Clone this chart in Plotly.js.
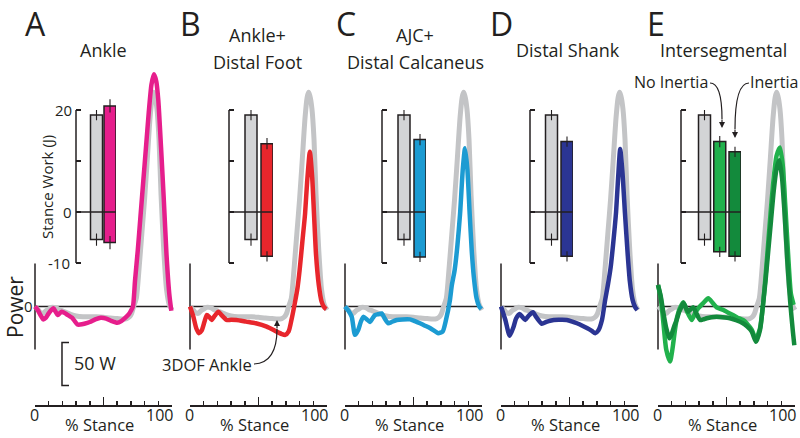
<!DOCTYPE html>
<html><head><meta charset="utf-8">
<script src="https://cdn.plot.ly/plotly-3.0.1.min.js"></script>
<style>html,body{margin:0;padding:0;background:#fff}#chart{width:800px;height:438px}</style>
</head><body><div id="chart"></div>
<script>
// ---------------- DATA ----------------
// Reference (rigid foot) power curve, % stance vs W
const stanceRef = [0, 2, 4, 6, 8, 10, 12, 14, 16, 18, 20, 23, 26, 30, 35, 40, 45, 50, 55, 60, 64, 67, 69, 70.5, 72, 74, 76, 78, 80, 82, 84, 85.5, 86.5, 87.5, 89, 90.5, 92, 94, 96, 98, 100];
const powerRef  = [0, -3, -7, -8, -5, -3, -1, -1, -2, -4, -5, -7, -9, -11, -12, -12, -12, -12.5, -13.5, -14, -14.5, -14, -12, -8, 0, 10, 45, 85, 125, 172, 220, 243, 249, 245, 230, 195, 130, 65, 20, 2, -4];

// A: Ankle
const stanceAnkle = [0, 2, 4, 6, 8, 10, 12, 13.5, 15, 16.5, 18, 19.5, 21, 23, 25, 27, 29, 31, 33, 36, 40, 44, 48, 52, 56, 60, 63, 66, 68.5, 70, 71.5, 73, 75, 77, 79, 81, 83, 85, 86.8, 88.5, 90, 92, 94, 96, 98, 99.5];
const powerAnkle  = [0, -4, -10, -15, -13, -8, -4, -2, -6, -10, -8, -6, -7, -9, -11, -13, -17, -21, -21, -20, -18, -15, -13, -14, -17, -19, -17, -13, -9, -5, 0, 30, 65, 105, 145, 185, 225, 258, 270, 262, 240, 185, 125, 60, 15, -5];

// B: Ankle + Distal Foot
const stanceFoot = [0, 2.5, 4.5, 6.5, 8.5, 10.5, 12.2, 14, 15.8, 18, 20.7, 23, 26.8, 30, 34, 41, 48, 56, 63, 67, 69.5, 72, 74, 76.5, 78.5, 80, 82, 84, 85.5, 87.5, 89.2, 90.5, 92, 94, 96, 98, 99.5];
const powerFoot  = [0, -12, -25, -31, -28, -18, -10, -12, -15.7, -11, -6, -10, -15.7, -15.5, -15.7, -17.6, -19.5, -23.4, -29, -32, -33, -29, -16, 4, 22, 42, 75, 108, 145, 180, 150, 108, 60, 25, 6, -1, -3];

// C: AJC + Distal Calcaneus
const stanceCalc = [0, 2.5, 4.9, 7.3, 9.7, 11.5, 13.4, 16, 18.2, 20, 21.9, 24, 26.8, 29, 31.6, 34, 37.7, 42, 47.5, 51, 54.7, 58, 62, 65, 68, 71.3, 73.7, 76.6, 78, 80, 82, 84, 86, 87.6, 89.3, 91, 92.5, 94, 96, 98, 99.5];
const powerCalc  = [0, -5, -12, -33, -27, -18, -12, -15, -18, -14, -10, -9, -8, -14, -19.5, -18, -15.7, -15, -15, -17, -19.5, -22, -25, -28, -31, -29, -15.7, 7.5, 25, 42, 70, 108, 160, 184, 160, 108, 65, 35, 10, 0, -3];

// D: Distal Shank
const stanceShank = [0, 3.2, 6.3, 9.2, 11, 13.6, 15.5, 17.7, 20, 23.3, 26, 29.8, 33, 35.9, 42, 48, 52, 55.4, 59, 62.7, 66, 68.8, 71, 73.7, 76, 78, 80, 82, 84, 85.5, 87, 88.7, 90.5, 92.5, 94, 96, 98, 99.5];
const powerShank  = [0, -15.7, -34, -23.5, -14, -8.7, -12, -15.7, -11, -6.8, -13, -20, -18, -16.5, -15.5, -15.7, -17.5, -19.5, -22, -25, -28, -31, -28, -15.7, 7.5, 25, 45, 75, 110, 150, 183, 155, 108, 60, 30, 8, -1, -4];

// E: Intersegmental, no inertia / inertia
const stanceNoInertia = [0, 2, 4, 6, 8.8, 10.5, 12.4, 14, 16, 18.5, 21, 24.6, 27, 29.4, 33, 36.7, 40, 42.8, 47.7, 51, 55, 58, 62, 65, 68.4, 71.5, 74.5, 76.5, 78.5, 80.5, 82.5, 84.5, 86.5, 89, 91, 93, 95, 97, 99];
const powerNoInertia  = [25, 10, -20, -50, -64, -50, -27, -12, -2, 5, -5, -15.7, -8, -2, 4, 9.5, 4, -1, -4, -7, -10, -13, -15.7, -20, -27, -38, -25, 0, 35, 75, 115, 150, 175, 185, 165, 115, 60, 15, 2];
const stanceInertia = [0, 2, 4, 6, 8.3, 10, 12, 13.6, 15.5, 17.3, 18.5, 20, 22, 24, 25.8, 28, 30.7, 33, 35.5, 39, 42.8, 47, 52.6, 57, 62, 65, 68.4, 71.5, 74.5, 76.5, 78.5, 80.5, 82.5, 84.5, 86.5, 88.5, 90.5, 92.5, 94.5, 96.5, 98.5, 99.5];
const powerInertia  = [25, 12, -8, -25, -37, -32, -22, -15.7, -6, 0, 4, 0, -6, -3, -1, -8, -15.7, -15, -13.7, -12.5, -12, -12.5, -13.7, -16, -19.5, -23, -29, -41, -27, 0, 30, 65, 100, 135, 160, 170, 150, 105, 50, 5, -30, -45];

// Stance work (J): positive and negative work, with error
const workCatsA = ['Rigid', 'Ankle'];
const workPosA = [19.0, 20.8];  const workNegA = [-5.4, -6.0];
const workErrPosA = [1.0, 1.3]; const workErrNegA = [1.2, 1.3];
const workCatsB = ['Rigid', 'Ankle+Distal Foot'];
const workPosB = [19.0, 13.4];  const workNegB = [-5.4, -8.7];
const workErrPosB = [1.0, 1.1]; const workErrNegB = [1.2, 1.0];
const workCatsC = ['Rigid', 'AJC+Distal Calcaneus'];
const workPosC = [19.0, 14.2];  const workNegC = [-5.4, -8.8];
const workErrPosC = [1.0, 1.1]; const workErrNegC = [1.2, 1.0];
const workCatsD = ['Rigid', 'Distal Shank'];
const workPosD = [19.0, 13.8];  const workNegD = [-5.4, -8.7];
const workErrPosD = [1.0, 1.0]; const workErrNegD = [1.2, 1.0];
const workCatsE = ['Rigid', 'No Inertia', 'Inertia'];
const workPosE = [19.0, 13.8, 11.8];  const workNegE = [-5.4, -7.8, -8.7];
const workErrPosE = [1.0, 1.1, 1.0];  const workErrNegE = [1.2, 1.0, 1.0];

const panelLetters = ['A', 'B', 'C', 'D', 'E'];
const panelTitleLines = [['Ankle'], ['Ankle+', 'Distal Foot'], ['AJC+', 'Distal Calcaneus'], ['Distal Shank'], ['Intersegmental']];
const stanceTickVals = [0, 50, 100];
const stanceMinorVals = [10, 20, 30, 40, 60, 70, 80, 90];
const workTickVals = [-10, 0, 10, 20];
const workTickLabels = ['-10', '0', '', '20'];

// ---------------- STYLE / LAYOUT ----------------
const FONT = 'Open Sans, Noto Sans, sans-serif';
const INK = '#231f20';
const grayLine = '#c3c4c6', grayBar = '#d3d4d6';
const colAnkle = '#e61e8c', colFoot = '#e8262c', colCalc = '#1c9bd2', colShank = '#2b3593';
const colNoInertia = '#21b14c', colInertia = '#138a3c';

const fx = p => p / 800, fy = p => 1 - p / 438;
const PX_PCT = 1.37, ZERO_Y = 306.5, PX_W = 0.86;
const panelZeroPx = [35, 190, 345, 501, 658];
const titleCenterPx = [103, 257, 415, 568, 723];
const letterCenterPx = [35, 190, 346, 501, 656];
const insetAxisPx = [76, 229, 382, 530, 681];
const insetSpacing = [13.5, 16, 16, 15.5, 15.25];
const insetFirstOffset = [20.5, 22, 22, 21.5, 23.5];
const workLabelCenterPx = [59, 67, 0, 63.5];
const BAR_PX = 12;
const W_TOP = 24, W_BOT = -12, W_PX0 = 212, W_PX_J = 5.1;

const panelSeries = [
  [{x: stanceAnkle, y: powerAnkle, c: colAnkle}],
  [{x: stanceFoot, y: powerFoot, c: colFoot}],
  [{x: stanceCalc, y: powerCalc, c: colCalc}],
  [{x: stanceShank, y: powerShank, c: colShank}],
  [{x: stanceNoInertia, y: powerNoInertia, c: colNoInertia}, {x: stanceInertia, y: powerInertia, c: colInertia}]
];
const panelWork = [
  {cats: workCatsA, pos: workPosA, neg: workNegA, ep: workErrPosA, en: workErrNegA, cols: [grayBar, colAnkle]},
  {cats: workCatsB, pos: workPosB, neg: workNegB, ep: workErrPosB, en: workErrNegB, cols: [grayBar, colFoot]},
  {cats: workCatsC, pos: workPosC, neg: workNegC, ep: workErrPosC, en: workErrNegC, cols: [grayBar, colCalc]},
  {cats: workCatsD, pos: workPosD, neg: workNegD, ep: workErrPosD, en: workErrNegD, cols: [grayBar, colShank]},
  {cats: workCatsE, pos: workPosE, neg: workNegE, ep: workErrPosE, en: workErrNegE, cols: [grayBar, colNoInertia, colInertia]}
];

const sfx = n => (n === 1 ? '' : String(n));
const traces = [];
const layout = {
  width: 800, height: 438, margin: {l: 0, r: 0, t: 0, b: 0},
  paper_bgcolor: '#fff', plot_bgcolor: 'rgba(0,0,0,0)',
  showlegend: false, font: {family: FONT, color: INK},
  shapes: [], annotations: []
};
const line = (o) => Object.assign({type: 'line', line: {color: INK, width: 1.5}}, o);
const txt = (text, x, y, size, extra) => Object.assign({
  text: text, x: fx(x), y: fy(y), xref: 'paper', yref: 'paper', showarrow: false,
  xanchor: 'center', yanchor: 'middle', font: {family: FONT, size: size, color: INK}
}, extra || {});

for (let i = 0; i < 5; i++) {
  const x0 = panelZeroPx[i];
  // --- power subplot ---
  const pn = i + 1, ps = sfx(pn);
  layout['xaxis' + ps] = {domain: [fx(x0 - 4 * PX_PCT), fx(x0 + 103 * PX_PCT)], range: [-4, 103], visible: false, fixedrange: true, anchor: 'y' + ps};
  layout['yaxis' + ps] = {domain: [0, 1], range: [(ZERO_Y - 438) / PX_W, ZERO_Y / PX_W], visible: false, fixedrange: true, anchor: 'x' + ps};
  traces.push({type: 'scatter', mode: 'lines', x: stanceRef, y: powerRef, xaxis: 'x' + ps, yaxis: 'y' + ps,
    line: {color: grayLine, width: 5, shape: 'spline', smoothing: 0.6}, hoverinfo: 'skip'});
  panelSeries[i].forEach(s => traces.push({type: 'scatter', mode: 'lines', x: s.x, y: s.y, xaxis: 'x' + ps, yaxis: 'y' + ps,
    line: {color: s.c, width: 4.5, shape: 'spline', smoothing: 0.6}, hoverinfo: 'skip'}));
  layout.shapes.push(line({xref: 'x' + ps, yref: 'y' + ps, x0: 0, x1: 100, y0: 0, y1: 0, layer: 'below'}));
  layout.shapes.push(line({xref: 'x' + ps, yref: 'y' + ps, x0: 0, x1: 0, y0: -50, y1: 50, layer: 'below'}));

  // --- bottom % stance axis ---
  const bn = i + 6, bs = sfx(bn);
  layout['xaxis' + bs] = {domain: [fx(x0), fx(x0 + 100 * PX_PCT)], range: [0, 100], anchor: 'y' + bs,
    showline: true, linecolor: INK, linewidth: 1.5, showgrid: false, zeroline: false,
    tickmode: 'array', tickvals: stanceTickVals, showticklabels: false, ticks: 'inside', ticklen: 8, tickwidth: 1.5, tickcolor: INK,
    minor: {tickmode: 'array', tickvals: stanceMinorVals, ticks: 'inside', ticklen: 4, tickwidth: 1.5, tickcolor: INK, showgrid: false},
    fixedrange: true};
  layout['yaxis' + bs] = {domain: [fy(405), fy(395)], range: [0, 1], visible: false, fixedrange: true, anchor: 'x' + bs};
  traces.push({type: 'scatter', mode: 'markers', x: [0, 100], y: [0.5, 0.5], xaxis: 'x' + bs, yaxis: 'y' + bs,
    marker: {size: 1, color: 'rgba(0,0,0,0)'}, hoverinfo: 'skip'});
  layout.annotations.push(txt(String(stanceTickVals[0]), x0 - 1, 415, 16));
  layout.annotations.push(txt(String(stanceTickVals[2]), x0 + 100 * PX_PCT - 13, 415, 16));
  layout.annotations.push(txt('% Stance', x0 + 64, 438, 16.5, {yanchor: 'bottom'}));

  // --- inset stance work bars ---
  const w = panelWork[i], n = w.cats.length, s = insetSpacing[i];
  const r0 = -insetFirstOffset[i] / s, r1 = (n - 1) + (BAR_PX / 2) / s;
  const an = i + 11, as = sfx(an);
  layout['xaxis' + as] = {domain: [fx(insetAxisPx[i]), fx(insetAxisPx[i] + (r1 - r0) * s)], range: [r0, r1], type: 'category',
    visible: false, fixedrange: true, anchor: 'y' + as};
  layout['yaxis' + as] = {domain: [fy(W_PX0 - W_BOT * W_PX_J), fy(W_PX0 - W_TOP * W_PX_J)], range: [W_BOT, W_TOP], anchor: 'x' + as, fixedrange: true,
    showline: false, zeroline: false, showgrid: false, ticks: 'inside', ticklen: 5, tickwidth: 1.5, tickcolor: INK,
    tickmode: 'array', tickvals: workTickVals, showticklabels: false};
  traces.push({type: 'bar', x: w.cats, y: w.pos.map((p, k) => p - w.neg[k]), base: w.neg, xaxis: 'x' + as, yaxis: 'y' + as,
    width: BAR_PX / s, marker: {color: w.cols, line: {color: INK, width: 1.5}}, hoverinfo: 'skip'});
  traces.push({type: 'scatter', mode: 'markers', x: w.cats.concat(w.cats), y: w.pos.concat(w.neg), xaxis: 'x' + as, yaxis: 'y' + as,
    marker: {size: 1, color: 'rgba(0,0,0,0)'}, hoverinfo: 'skip',
    error_y: {type: 'data', array: w.ep.concat(w.en), visible: true, width: 0, thickness: 1.1, color: INK}});
  layout.shapes.push(line({xref: 'x' + as + ' domain', yref: 'y' + as, x0: 0, x1: 0, y0: -10, y1: 20}));
  layout.shapes.push(line({xref: 'x' + as + ' domain', yref: 'y' + as, x0: 0, x1: 1, y0: 0, y1: 0}));

  // --- letters and titles ---
  layout.annotations.push(txt(panelLetters[i], letterCenterPx[i], 0, 32, {yanchor: 'top'}));
  const tl = panelTitleLines[i];
  if (tl.length === 1) layout.annotations.push(txt(tl[0], titleCenterPx[i], 50, 18));
  else { layout.annotations.push(txt(tl[0], titleCenterPx[i], 35, 18)); layout.annotations.push(txt(tl[1], titleCenterPx[i], 62, 18)); }
}

// Work axis tick labels (panel A only)
workTickVals.forEach((v, k) => {
  if (workTickLabels[k]) layout.annotations.push(txt(workTickLabels[k], workLabelCenterPx[k], W_PX0 - v * W_PX_J, 15));
});

// Shared labels
layout.annotations.push(txt('Stance Work (J)', 47, 187, 15, {textangle: -90}));
layout.annotations.push(txt('Power', 15, 307, 21, {textangle: -90}));
layout.annotations.push(txt('0', 28, 306, 15));
layout.annotations.push(txt('50 W', 95, 363, 18));
// 50 W scale bar (drawn in panel A power units)
layout.shapes.push({type: 'path', xref: 'x', yref: 'y', path: 'M 24.8,-42 L 19.7,-42 L 19.7,-92 L 24.8,-92', line: {color: INK, width: 1.5}});

// 3DOF Ankle callout
layout.annotations.push(txt('3DOF Ankle', 207, 364, 16.5));
const P = (x, y) => fx(x) + ',' + fy(y);
const curve = (a, c, b) => ({type: 'path', xref: 'paper', yref: 'paper', path: 'M ' + P(a[0], a[1]) + ' Q ' + P(c[0], c[1]) + ' ' + P(b[0], b[1]), line: {color: INK, width: 1.2}});
layout.shapes.push(curve([254, 364], [277, 363], [277, 329]));
const head = (x, y, ay) => ({x: fx(x), y: fy(y), xref: 'paper', yref: 'paper', text: '', showarrow: true,
  ax: 0, ay: ay, arrowhead: 2, arrowsize: 1, arrowwidth: 1.2, arrowcolor: INK});
layout.annotations.push(head(277, 320, 10));

// E callouts
layout.annotations.push(txt('No Inertia', 671, 82, 16));
layout.annotations.push(txt('Inertia', 774, 82, 16));
layout.shapes.push(curve([710, 83], [722, 83], [722, 119]));
layout.annotations.push(head(722, 128, -10));
layout.shapes.push(curve([749, 83], [735, 83], [735, 129]));
layout.annotations.push(head(735, 138, -10));

Plotly.newPlot('chart', traces, layout, {staticPlot: true, displayModeBar: false});
</script>
</body></html>
